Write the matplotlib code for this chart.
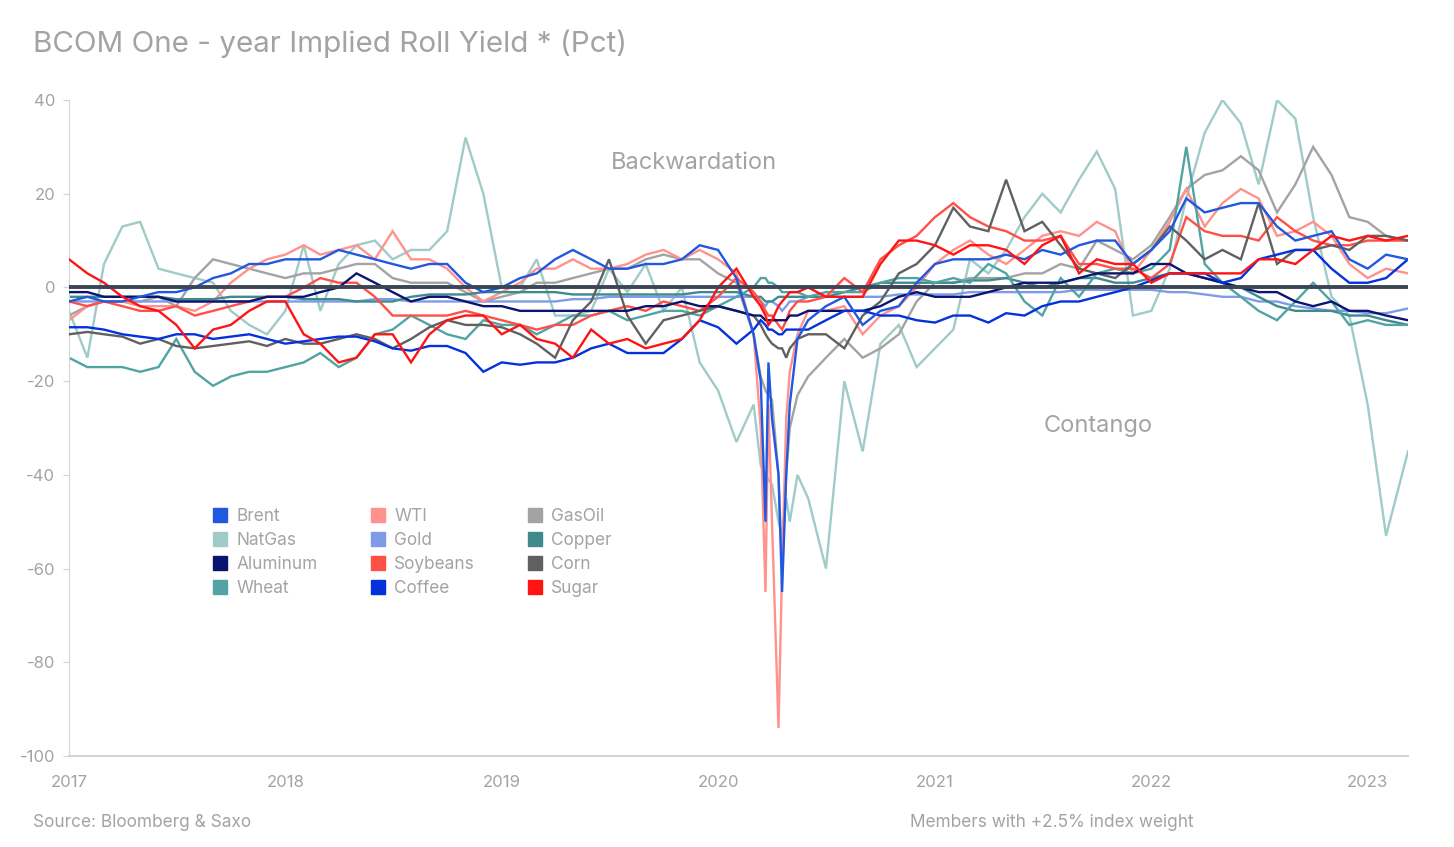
import numpy as np
import pandas as pd
import matplotlib
matplotlib.use("Agg")
import matplotlib.pyplot as plt
from matplotlib.lines import Line2D

plt.rcParams["font.family"] = ["Inter", "DejaVu Sans"]
plt.rcParams["axes.unicode_minus"] = False

# monthly points, plus a few extra dates around the March/April 2020 crash
MONTHS = list(pd.date_range("2017-01-01", "2023-02-01", freq="MS"))
COVID_EXTRA = ["2020-03-13", "2020-03-21", "2020-03-26", "2020-04-12",
               "2020-04-18", "2020-04-25", "2020-05-14"]
LAST_DATE = "2023-03-10"
DATES = sorted(MONTHS + [pd.Timestamp(d) for d in COVID_EXTRA] + [pd.Timestamp(LAST_DATE)])

# values per series, grouped by year (2020 holds 19 points: Jan, Feb, Mar1, Mar13,
# Mar21, Mar26, Apr1, Apr12, Apr18, Apr25, May1, May14, Jun..Dec)
BRENT = [
    -3, -2, -3, -3, -2, -1, -1, 0, 2, 3, 5, 5,
    6, 6, 6, 8, 7, 6, 5, 4, 5, 5, 1, -1,
    0, 2, 3, 6, 8, 6, 4, 4, 5, 5, 6, 9,
    8, 2, -10, -20, -50, -16, -28, -40, -65, -40, -25, -11, -7, -4, -2, -8, -5, -4, 1,
    5, 6, 6, 6, 7, 6, 8, 7, 9, 10, 10, 5,
    8, 12, 19, 16, 17, 18, 18, 13, 10, 11, 12, 6,
    4, 7, 6,
]
NATGAS = [
    -5, -15, 5, 13, 14, 4, 3, 2, 1, -5, -8, -10,
    -5, 9, -5, 5, 9, 10, 6, 8, 8, 12, 32, 20,
    0, 0, 6, -6, -6, -5, 4, -1, 5, -5, 0, -16,
    -22, -33, -25, -38, -40, -41, -42, -50, -53, -45, -50, -40, -45, -60, -20, -35, -12, -8, -17,
    -13, -9, 6, 3, 8, 15, 20, 16, 23, 29, 21, -6,
    -5, 4, 19, 33, 40, 35, 22, 40, 36, 15, -2, -6,
    -25, -53, -35,
]
ALUMINUM = [
    -1, -1, -2, -2, -2, -2, -3, -3, -3, -3, -3, -2,
    -2, -2, -1, 0, 3, 1, -1, -3, -2, -2, -3, -4,
    -4, -5, -5, -5, -5, -5, -5, -5, -4, -4, -3, -4,
    -4, -5, -6, -6, -7, -7, -7, -7, -7, -7, -6, -6, -5, -5, -5, -5, -4, -2, -1,
    -2, -2, -2, -1, 0, 1, 1, 1, 2, 3, 3, 3,
    5, 5, 3, 2, 1, 0, -1, -1, -3, -4, -3, -5,
    -5, -6, -7,
]
WHEAT = [
    -15, -17, -17, -17, -18, -17, -11, -18, -21, -19, -18, -18,
    -17, -16, -14, -17, -15, -10, -9, -6, -8, -10, -11, -7,
    -8, -8, -10, -8, -6, -6, -5, -7, -6, -5, -5, -6,
    -4, -2, 0, 2, 2, 1, 1, 0, -1, -1, -1, -1, -2, -1, -1, -1, 1, 2, 2,
    1, 2, 1, 5, 3, -3, -6, 2, -2, 3, 4, 3,
    4, 8, 30, 5, 1, -2, -5, -7, -3, 1, -3, -8,
    -7, -8, -8,
]
WTI = [
    -7, -4, -3, -3, -4, -4, -4, -5, -3, 1, 4, 6,
    7, 9, 7, 8, 9, 6, 12, 6, 6, 4, 0, -3,
    -1, 1, 4, 4, 6, 4, 4, 5, 7, 8, 6, 8,
    6, 3, -10, -30, -65, -25, -50, -94, -60, -28, -18, -10, -5, -5, -4, -10, -6, -4, 0,
    5, 8, 10, 7, 5, 8, 11, 12, 11, 14, 12, 3,
    8, 14, 21, 13, 18, 21, 19, 11, 12, 14, 11, 5,
    2, 4, 3,
]
GOLD = [
    -3, -3, -3, -3, -3, -3, -3, -3, -3, -3, -3, -3,
    -3, -3, -3, -3, -3, -2.5, -2.5, -3, -3, -3, -3, -3,
    -3, -3, -3, -3, -2.5, -2.5, -2, -2, -2, -2, -2, -2,
    -2, -2, -2, -3, -4, -3, -3, -4, -5, -4, -3, -3, -2, -2, -2, -2, -2, -1.5, -1.5,
    -1.5, -1.5, -1, -1, -1, -1, -1, -1, -0.5, -0.5, -0.5, -0.5,
    -0.5, -1, -1, -1.5, -2, -2, -3, -3, -4, -4.5, -5, -5,
    -5.5, -5.5, -4.5,
]
SOYBEANS = [
    -3, -4, -3, -4, -5, -5, -4, -6, -5, -4, -3, -2,
    -2, 0, 2, 1, 1, -2, -6, -6, -6, -6, -5, -6,
    -7, -8, -9, -8, -8, -6, -5, -4, -5, -3, -4, -5,
    -2, 2, -1, -3, -5, -6, -6, -8, -9, -7, -5, -3, -3, -2, 2, -1, 6, 9, 11,
    15, 18, 15, 13, 12, 10, 10, 11, 5, 5, 4, 4,
    2, 5, 15, 12, 11, 11, 10, 15, 12, 10, 9, 9,
    10, 10, 10,
]
COFFEE = [
    -8.5, -8.5, -9, -10, -10.5, -11, -10, -10, -11, -10.5, -10, -11,
    -12, -11.5, -11, -10.5, -10.5, -11.5, -13, -13.5, -12.5, -12.5, -14, -18,
    -16, -16.5, -16, -16, -15, -13, -12, -14, -14, -14, -11, -7,
    -8.5, -12, -9, -7, -8, -9, -9, -10, -10, -9, -9, -9, -9, -7, -5, -5, -6, -6, -7,
    -7.5, -6, -6, -7.5, -5.5, -6, -4, -3, -3, -2, -1, 0,
    1.5, 3, 3, 3, 1, 2, 6, 7, 8, 8, 4, 1,
    1, 2, 6,
]
GASOIL = [
    -6, -4, -3, -3, -3, -2, -4, 2, 6, 5, 4, 3,
    2, 3, 3, 4, 5, 5, 2, 1, 1, 1, -1, -3,
    -2, -1, 1, 1, 2, 3, 4, 4, 6, 7, 6, 6,
    3, 1, -10, -19, -22, -23, -24, -40, -60, -40, -30, -23, -19, -15, -11, -15, -13, -10, -3,
    1, 1, 2, 2, 2, 3, 3, 5, 4, 10, 8, 6,
    9, 15, 21, 24, 25, 28, 25, 16, 22, 30, 24, 15,
    14, 11, 10,
]
COPPER = [
    -2, -2, -2, -2, -2, -2, -2.5, -2.5, -2.5, -2, -2, -2,
    -2, -2.5, -2.5, -2.5, -3, -3, -3, -2, -1.5, -1.5, -1.5, -1,
    -1, -1, -1, -1, -1.5, -1.5, -1.5, -1.5, -1.5, -1.5, -1.5, -1,
    -1, -1, -2, -2, -3, -3, -3, -2, -2, -2, -2, -2, -2, -2, -1, 0, 1, 1, 1,
    1, 1, 1.5, 1.5, 2, 1, 0, 1, 2, 2, 1, 1,
    2, 3, 3, 2, 1, 0, -2, -4, -5, -5, -5, -6,
    -6, -7, -8,
]
CORN = [
    -10, -9.5, -10, -10.5, -12, -11, -12.5, -13, -12.5, -12, -11.5, -12.5,
    -11, -12, -12, -11, -10, -11, -13, -11, -8.5, -7, -8, -8,
    -8.5, -10, -12, -15, -7, -3, 6, -6, -12, -7, -6, -5,
    -4, -5, -6, -8, -10, -11, -12, -13, -13, -15, -13, -11, -10, -10, -13, -6, -3, 3, 5,
    9, 17, 13, 12, 23, 12, 14, 9, 4, 3, 2, 5,
    8, 13, 10, 6, 8, 6, 18, 5, 8, 8, 9, 8,
    11, 11, 10,
]
SUGAR = [
    6, 3, 1, -2, -4, -5, -8, -13, -9, -8, -5, -3,
    -3, -10, -12, -16, -15, -10, -10, -16, -10, -7, -6, -6,
    -10, -8, -11, -12, -15, -9, -12, -11, -13, -12, -11, -7,
    0, 4, -2, -4, -6, -8, -7, -4, -3, -2, -1, -1, 0, -2, -2, -2, 5, 10, 10,
    9, 7, 9, 9, 8, 5, 9, 11, 3, 6, 5, 5,
    1, 3, 3, 3, 3, 3, 6, 6, 5, 8, 11, 10,
    11, 10, 11,
]

SERIES = [
    ("Brent", BRENT, "#2158e0"),
    ("NatGas", NATGAS, "#9fcbc8"),
    ("Aluminum", ALUMINUM, "#0b1570"),
    ("Wheat", WHEAT, "#52a3a3"),
    ("WTI", WTI, "#ff928c"),
    ("Gold", GOLD, "#7f9be8"),
    ("Soybeans", SOYBEANS, "#ff5047"),
    ("Coffee", COFFEE, "#0332dd"),
    ("GasOil", GASOIL, "#a3a3a3"),
    ("Copper", COPPER, "#3e8a8c"),
    ("Corn", CORN, "#606060"),
    ("Sugar", SUGAR, "#ff1414"),
]

TEXT_GREY = "#a3a3a3"
W, H = 1454, 847

fig = plt.figure(figsize=(W / 100, H / 100), dpi=100)
ax = fig.add_axes([69 / W, 1 - 756 / H, (1408 - 69) / W, (756 - 100) / H])

# draw order: light ones first so the darker lines sit on top
draw_order = ["NatGas", "GasOil", "Gold", "WTI", "Copper", "Wheat",
              "Soybeans", "Corn", "Aluminum", "Coffee", "Brent", "Sugar"]
lookup = {name: (vals, col) for name, vals, col in SERIES}
for z, name in enumerate(draw_order):
    vals, col = lookup[name]
    ax.plot(DATES, vals, color=col, lw=1.7, zorder=2 + z * 0.1, solid_joinstyle="miter")

ax.axhline(0, color="#3b4556", lw=2.8, zorder=5)

ax.set_ylim(-100, 40)
ax.set_yticks(np.arange(-100, 41, 20))
ax.set_xlim(pd.Timestamp("2017-01-01"), pd.Timestamp(LAST_DATE))
years = [pd.Timestamp(f"{y}-01-01") for y in range(2017, 2024)]
ax.set_xticks(years)
ax.set_xticklabels([str(y) for y in range(2017, 2024)])

for side in ["top", "right"]:
    ax.spines[side].set_visible(False)
ax.spines["left"].set_color("#d4d4d4")
ax.spines["bottom"].set_color("#d4d4d4")
ax.spines["bottom"].set_linewidth(1.5)
ax.tick_params(axis="y", length=4, color="#d4d4d4", labelcolor=TEXT_GREY, labelsize=12, pad=6)
ax.tick_params(axis="x", length=0, labelcolor=TEXT_GREY, labelsize=12, pad=14)

fig.text(33 / W, 1 - 44 / H, "BCOM One - year Implied Roll Yield * (Pct)",
         fontsize=21.3, color=TEXT_GREY, va="center", ha="left")
fig.text(694 / W, 1 - 163 / H, "Backwardation", fontsize=17, color=TEXT_GREY,
         va="center", ha="center")
fig.text(1098 / W, 1 - 426 / H, "Contango", fontsize=17, color=TEXT_GREY,
         va="center", ha="center")
fig.text(33 / W, 1 - 822 / H, "Source: Bloomberg & Saxo", fontsize=12.4,
         color=TEXT_GREY, va="center", ha="left")
fig.text(910 / W, 1 - 822 / H, "Members with +2.5% index weight", fontsize=12.4,
         color=TEXT_GREY, va="center", ha="left")

# legend: three columns of four, placed one column at a time
col_x = [212, 370, 527]
for c in range(3):
    handles = []
    for name, vals, col in SERIES[c * 4:(c + 1) * 4]:
        handles.append(Line2D([], [], marker="s", linestyle="none", markersize=10,
                              markerfacecolor=col, markeredgecolor=col, label=name))
    fig.legend(handles=handles, loc="upper left",
               bbox_to_anchor=(col_x[c] / W, 1 - 508 / H), frameon=False,
               fontsize=12.4, labelcolor=TEXT_GREY, handlelength=0.9,
               handletextpad=0.5, labelspacing=0.4, borderpad=0, borderaxespad=0)

fig.savefig("out.png", dpi=100, facecolor="white")
